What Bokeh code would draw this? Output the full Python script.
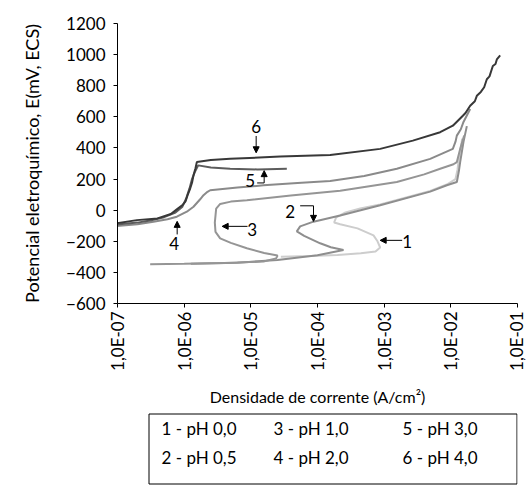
import numpy as np
from bokeh.plotting import figure
from bokeh.layouts import column
from bokeh.models import (Range1d, FixedTicker, CustomJSTickFormatter, Label,
                          Arrow, NormalHead)
from bokeh.embed import file_html
from bokeh.resources import INLINE

# ---- data: log10 of current density (A/cm2) and potential (mV, ECS) ----
c1_logi = [-4.55, -4.10, -3.70, -3.35, -3.13, -3.06, -3.10, -3.16, -3.40, -3.66, -3.75,
           -3.72, -3.58, -3.36, -3.06, -2.60, -2.31, -2.06, -1.93, -1.90, -1.88, -1.85, -1.83]
c1_E = [-300, -295, -288, -277, -266, -240, -200, -162, -117, -91, -79,
        -47, -15, 11, 36, 90, 124, 165, 200, 260, 330, 400, 460]

c2_logi = [-5.90, -5.20, -4.60, -4.00, -3.61, -3.80, -3.96, -4.20, -4.31, -4.26, -4.06,
           -3.66, -3.06, -2.31, -2.06, -1.91, -1.88, -1.86, -1.81, -1.76]
c2_E = [-345, -338, -320, -290, -256, -238, -213, -165, -136, -104, -74,
        -34, 32, 119, 160, 181, 250, 309, 439, 540]

c3_logi = [-6.51, -6.00, -5.40, -4.81, -4.62, -4.60, -4.80, -5.06, -5.30, -5.46, -5.53,
           -5.54, -5.52, -5.46, -5.30, -5.06, -4.40, -3.66, -2.81, -2.40, -2.16, -1.96,
           -1.91, -1.88, -1.86, -1.80]
c3_E = [-347, -345, -340, -330, -310, -292, -275, -245, -210, -181, -140,
        -80, 10, 40, 55, 64, 95, 125, 181, 230, 266, 295,
        309, 360, 394, 480]

c4_logi = [-7.01, -6.70, -6.46, -6.25, -6.11, -5.96, -5.86, -5.76, -5.71, -5.65, -5.61,
           -5.20, -4.81, -4.30, -3.81, -3.30, -2.81, -2.31, -1.97, -1.93, -1.91, -1.85,
           -1.81, -1.71]
c4_E = [-102, -90, -74, -58, -42, -10, 22, 70, 96, 118, 128,
        145, 160, 175, 188, 220, 266, 330, 394, 440, 479, 520,
        567, 650]

c5_logi = [-7.01, -6.70, -6.51, -6.30, -6.13, -6.03, -5.97, -5.92, -5.88, -5.84, -5.79,
           -5.60, -5.31, -4.90, -4.46]
c5_E = [-92, -80, -66, -45, -15, 20, 75, 140, 203, 245, 288,
        275, 266, 262, 266]

c6_logi = [-7.01, -6.71, -6.40, -6.20, -6.11, -6.02, -5.98, -5.95, -5.91, -5.88, -5.86,
           -5.83, -5.81, -5.60, -5.31, -4.56, -3.81, -3.06, -2.57, -2.16, -1.97, -1.82,
           -1.78, -1.71, -1.64, -1.61, -1.55, -1.50, -1.46, -1.42, -1.37, -1.33, -1.31, -1.26]
c6_E = [-84, -64, -53, -25, 5, 35, 56, 95, 139, 180, 224,
        270, 309, 322, 330, 345, 355, 394, 447, 501, 543, 607,
        625, 671, 700, 735, 760, 790, 842, 860, 927, 940, 969, 995]

x_ticks_exp = [-7, -6, -5, -4, -3, -2, -1]
y_ticks = [-600, -400, -200, 0, 200, 400, 600, 800, 1000, 1200]
legend_rows = [["1 - pH 0,0", "3 - pH 1,0", "5 - pH 3,0"],
               ["2 - pH 0,5", "4 - pH 2,0", "6 - pH 4,0"]]

FONT = "Lato"
FS = "17px"
FS_YLAB = "18px"
FS_XLAB = "16px"
FS_LEG = "17px"

p = figure(width=526, height=408, output_backend="svg", toolbar_location=None,
           x_axis_type="log", x_range=Range1d(1e-7, 1e-1), y_range=Range1d(-600, 1200),
           min_border_left=117, min_border_right=9, min_border_top=23, min_border_bottom=104)
p.outline_line_color = None
p.grid.grid_line_color = None
p.background_fill_color = "white"

curves = [
    (c1_logi, c1_E, "#cdcdcd"),
    (c2_logi, c2_E, "#8e8e8e"),
    (c3_logi, c3_E, "#959595"),
    (c4_logi, c4_E, "#8a8a8a"),
    (c5_logi, c5_E, "#5c5c5c"),
    (c6_logi, c6_E, "#383838"),
]
for lg, E, col in curves:
    p.line(10 ** np.array(lg), E, line_color=col, line_width=2)

# axes
p.xaxis.ticker = FixedTicker(ticks=[10.0 ** e for e in x_ticks_exp], minor_ticks=[])
p.xaxis.formatter = CustomJSTickFormatter(code="""
const e = Math.round(Math.log10(tick));
const s = e < 0 ? "-" : "+";
return "1,0E" + s + String(Math.abs(e)).padStart(2, "0");
""")
p.xaxis.major_label_orientation = np.pi / 2
p.yaxis.ticker = FixedTicker(ticks=y_ticks, minor_ticks=[])
for ax in (p.xaxis[0], p.yaxis[0]):
    ax.axis_line_color = "black"
    ax.axis_line_width = 1
    ax.major_tick_line_color = "black"
    ax.major_tick_out = 4
    ax.major_tick_in = 0
    ax.minor_tick_line_color = None
    ax.major_label_text_font = FONT
    ax.major_label_text_font_size = FS
    ax.major_label_text_color = "black"
    ax.axis_label_text_font = FONT
    ax.axis_label_text_font_style = "normal"
    ax.axis_label_text_color = "black"
p.xaxis.axis_label_text_font_size = FS_XLAB
p.yaxis.axis_label_text_font_size = FS_YLAB
p.xaxis.major_label_standoff = 4
p.yaxis.major_label_standoff = 8
p.xaxis.axis_label = "Densidade de corrente (A/cm\u00b2)"
p.xaxis.axis_label_standoff = 13
p.yaxis.axis_label = "Potencial eletroqu\u00edmico, E(mV, ECS)"
p.yaxis.axis_label_standoff = 20

# annotations (label text, log10 i, E)
def X(lg):
    return 10.0 ** lg

ann = [("6", -4.92, 535), ("5", -5.01, 190), ("2", -4.41, -8),
       ("3", -4.98, -123), ("4", -6.15, -213), ("1", -2.655, -201)]
for t, lg, E in ann:
    p.add_layout(Label(x=X(lg), y=E, text=t, text_font=FONT, text_font_size=FS,
                       text_align="center", text_baseline="middle", text_color="black"))

def arrow(lg0, e0, lg1, e1):
    p.add_layout(Arrow(end=NormalHead(size=6, fill_color="black", line_color="black"),
                       x_start=X(lg0), y_start=e0, x_end=X(lg1), y_end=e1,
                       line_color="black", line_width=1))

arrow(-4.92, 477, -4.92, 369)      # 6
arrow(-4.80, 175, -4.80, 254)      # 5
arrow(-4.06, 28, -4.06, -72)       # 2
arrow(-5.05, -104, -5.43, -104)    # 3
arrow(-6.105, -156, -6.105, -72)   # 4
arrow(-2.73, -194, -3.06, -194)    # 1
p.line([X(-4.905), X(-4.80)], [175, 175], line_color="black", line_width=1)
p.line([X(-4.26), X(-4.06)], [28, 28], line_color="black", line_width=1)

# legend box figure (frame aligned with the chart frame: page x 117..517)
q = figure(width=526, height=84, output_backend="svg", toolbar_location=None,
           x_range=Range1d(117, 517), y_range=Range1d(84, 0),
           min_border_left=117, min_border_right=9, min_border_top=0, min_border_bottom=0)
q.axis.visible = False
q.grid.grid_line_color = None
q.outline_line_color = None
q.quad(left=[148.5], right=[516.5], top=[5.5], bottom=[75.5], fill_color=None,
       line_color="black", line_width=1)
col_x = [161, 273, 402]
row_y = [20, 49]
for r, row in enumerate(legend_rows):
    for c, t in enumerate(row):
        q.add_layout(Label(x=col_x[c], y=row_y[r], text=t, text_font=FONT,
                           text_font_size=FS_LEG, text_align="left", text_baseline="middle",
                           text_color="black"))

layout = column(p, q, spacing=0)
open("out.html", "w").write(file_html(layout, INLINE))
